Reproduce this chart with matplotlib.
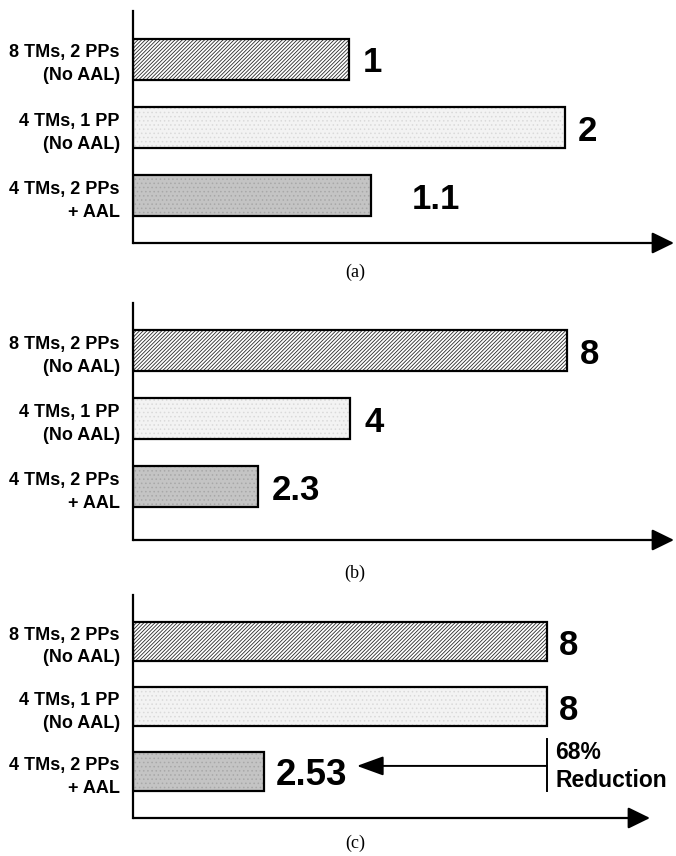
import matplotlib
matplotlib.use('Agg')
import matplotlib.pyplot as plt
import matplotlib.transforms as mtransforms

# ---------------- data ----------------
categories = ["8 TMs, 2 PPs\n(No AAL)", "4 TMs, 1 PP\n(No AAL)", "4 TMs, 2 PPs\n+ AAL"]
values_a = [1, 2, 1.1]
values_b = [8, 4, 2.3]
values_c = [8, 8, 2.53]
labels_a = ["1", "2", "1.1"]
labels_b = ["8", "4", "2.3"]
labels_c = ["8", "8", "2.53"]
captions = ["(a)", "(b)", "(c)"]
reduction_text = "68%\nReduction"

# ---------------- style ----------------
W, H, DPI = 676, 856, 100
plt.rcParams['font.family'] = ['Liberation Sans', 'DejaVu Sans']
plt.rcParams['hatch.linewidth'] = 0.6

fig = plt.figure(figsize=(W / DPI, H / DPI), dpi=DPI)


def px_axes(left, top, right, bottom):
    return fig.add_axes([left / W, 1 - bottom / H, (right - left) / W, (bottom - top) / H])


fills = [
    dict(facecolor='white', hatch='/' * 9, hcolor='#2a2a2a'),
    dict(facecolor='#f3f3f3', hatch='....', hcolor='#dadada'),
    dict(facecolor='#c4c4c4', hatch='....', hcolor='#a8a8a8'),
]

panels = [
    dict(box=(133, 11, 674, 243), vals=values_a, labs=labels_a, xmax=2.505, ylim=(2.69, -0.71),
         offs=[14, 13, 41], sizes=[25, 25, 25], cap_y=272),
    dict(box=(133, 303, 674, 540), vals=values_b, labs=labels_b, xmax=9.97, ylim=(2.78, -0.70),
         offs=[13, 14, 14], sizes=[25, 25, 25], cap_y=573),
    dict(box=(133, 595, 650, 818), vals=values_c, labs=labels_c, xmax=9.99, ylim=(2.71, -0.715),
         offs=[12, 12, 12], sizes=[25, 25, 26.5], cap_y=843),
]

ypos = [0, 1, 2]
bar_h = 0.6

axes = []
for pi, p in enumerate(panels):
    ax = px_axes(*p['box'])
    axes.append(ax)
    ax.set_xlim(0, p['xmax'])
    ax.set_ylim(*p['ylim'])
    for s in ['top', 'right', 'bottom']:
        ax.spines[s].set_visible(False)
    ax.spines['left'].set_linewidth(1.6)
    ax.set_xticks([])
    ax.set_yticks(ypos)
    ax.set_yticklabels(categories, fontsize=13, fontweight='bold', linespacing=1.45)
    ax.tick_params(axis='y', length=0, pad=9.5)
    # bars: texture layer + outline layer
    for i, v in enumerate(p['vals']):
        f = fills[i]
        ax.barh(ypos[i], v, height=bar_h, color=f['facecolor'], hatch=f['hatch'],
                edgecolor=f['hcolor'], linewidth=0, zorder=2)
        ax.barh(ypos[i], v, height=bar_h, facecolor='none', edgecolor='black',
                linewidth=1.6, zorder=3)
        ax.annotate(p['labs'][i], xy=(v, ypos[i]), xytext=(p['offs'][i] * 72 / DPI, 0),
                    textcoords='offset points', ha='left', va='center_baseline',
                    fontsize=p['sizes'][i], fontweight='bold')
    # x axis arrow
    ax.annotate('', xy=(1, 0), xytext=(0, 0), xycoords='axes fraction',
                arrowprops=dict(arrowstyle='-|>,head_length=0.45,head_width=0.22',
                                mutation_scale=30, lw=1.6, color='black',
                                shrinkA=0, shrinkB=0), annotation_clip=False)
    # caption
    fig.text(355 / W, 1 - p['cap_y'] / H, captions[pi], ha='center', va='center',
             fontsize=13, family=['Liberation Serif'])

# reduction annotation in panel (c)
axc = axes[2]
yv = ypos[2] - 0.09
v_small = values_c[2]
v_big = values_c[0]
tip = mtransforms.offset_copy(axc.transData, fig=fig, x=93, y=0, units='dots')
axc.annotate('', xy=(v_small, yv), xycoords=tip, xytext=(v_big, yv), textcoords='data',
             arrowprops=dict(arrowstyle='-|>,head_length=0.55,head_width=0.2',
                             mutation_scale=30, lw=1.4, color='black', shrinkA=0, shrinkB=0))
axc.plot([v_big, v_big], [ypos[2] - 0.5, ypos[2] + 0.3], color='black', lw=1.4, zorder=4)
axc.annotate(reduction_text, xy=(v_big, ypos[2] - 0.08), xytext=(8 * 72 / DPI, 0),
             textcoords='offset points', ha='left', va='center', fontsize=16.5,
             fontweight='bold', linespacing=1.3, annotation_clip=False)

fig.savefig('out.png', dpi=DPI)
